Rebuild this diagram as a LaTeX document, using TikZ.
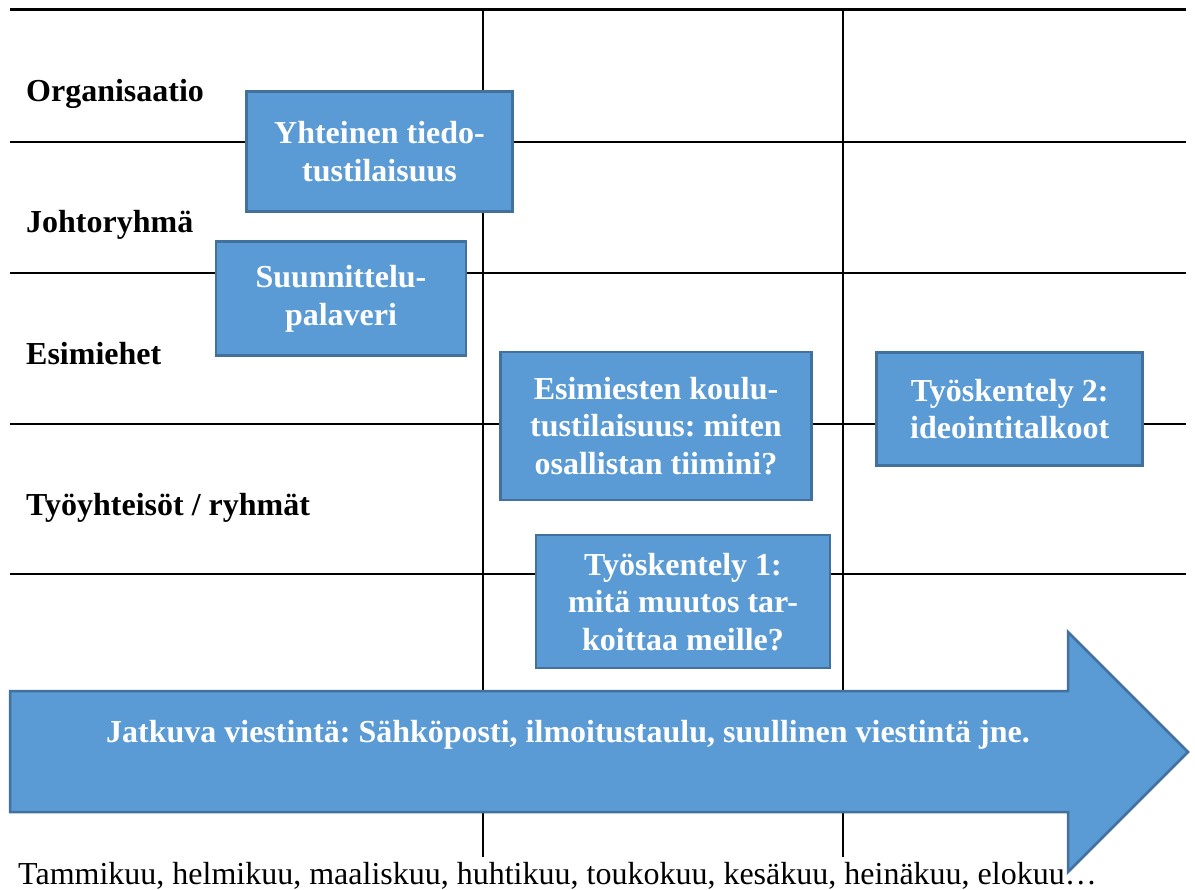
\documentclass[tikz,border=0pt]{standalone}
\usepackage{fontspec}
\setmainfont{Liberation Serif}
\frenchspacing
\definecolor{boxfill}{HTML}{5B9BD5}
\definecolor{boxline}{HTML}{41719C}
\tikzset{
  event/.style={draw=boxline, fill=boxfill, line width=2.5pt, text=white,
    font=\fontsize{32}{37.5}\selectfont\bfseries, align=center, inner sep=0pt},
  rowlabel/.style={anchor=base west, inner sep=0pt, font=\fontsize{32}{37.5}\selectfont\bfseries},
  gridline/.style={line width=2pt}
}

\begin{document}
\begin{tikzpicture}[x=1pt,y=-1pt]
\useasboundingbox (0,0) rectangle (1195,890);
% taulukko
\draw[line width=3pt] (10,10) -- (1186,10);
\foreach \y in {142,273,424,574} \draw[gridline] (10,\y) -- (1186,\y);
\foreach \x in {483,843} \draw[gridline] (\x,10) -- (\x,857);

% rivien otsikot
\node[rowlabel] (org)   at (26,102) {Organisaatio};
\node[rowlabel] (johto) at (26,233) {Johtoryhmä};
\node[rowlabel] (esim)  at (26,365) {Esimiehet};
\node[rowlabel] (tyo)   at (26,515) {Työyhteisöt / ryhmät};

% tapahtumat
\node[event, minimum width=266pt, minimum height=120pt] (info)  at (379.5,151.7) {Yhteinen tiedo-\\tustilaisuus};
\node[event, minimum width=250pt, minimum height=114pt] (suun)  at (341,298.7) {Suunnittelu-\\palaveri};
\node[event, minimum width=311pt, minimum height=148pt] (koulu) at (656,425.8) {Esimiesten koulu-\\tustilaisuus: miten\\osallistan tiimini?};
\node[event, minimum width=266pt, minimum height=113pt] (ty2)   at (1009.7,409) {Työskentely 2:\\ideointitalkoot};
\node[event, minimum width=294pt, minimum height=133pt] (ty1)   at (683,601.7) {Työskentely 1:\\mitä muutos tar-\\koittaa meille?};

% jatkuva viestintä
\draw[draw=boxline, fill=boxfill, line width=2.5pt]
  (10,691) -- (1068,691) -- (1068,632) -- (1188,752) -- (1068,872) -- (1068,812) -- (10,812) -- cycle;
\node[anchor=base, text=white, inner sep=0pt, font=\fontsize{32}{37.5}\selectfont\bfseries] (viesti) at (568,742)
  {Jatkuva viestintä: Sähköposti, ilmoitustaulu, suullinen viestintä jne.};

% kuukaudet
\node[anchor=base west, inner sep=0pt, font=\fontsize{32}{37.5}\selectfont] (kuut) at (18,884)
  {Tammikuu, helmikuu, maaliskuu, huhtikuu, toukokuu, kesäkuu, heinäkuu, elokuu…};
\end{tikzpicture}
\end{document}
